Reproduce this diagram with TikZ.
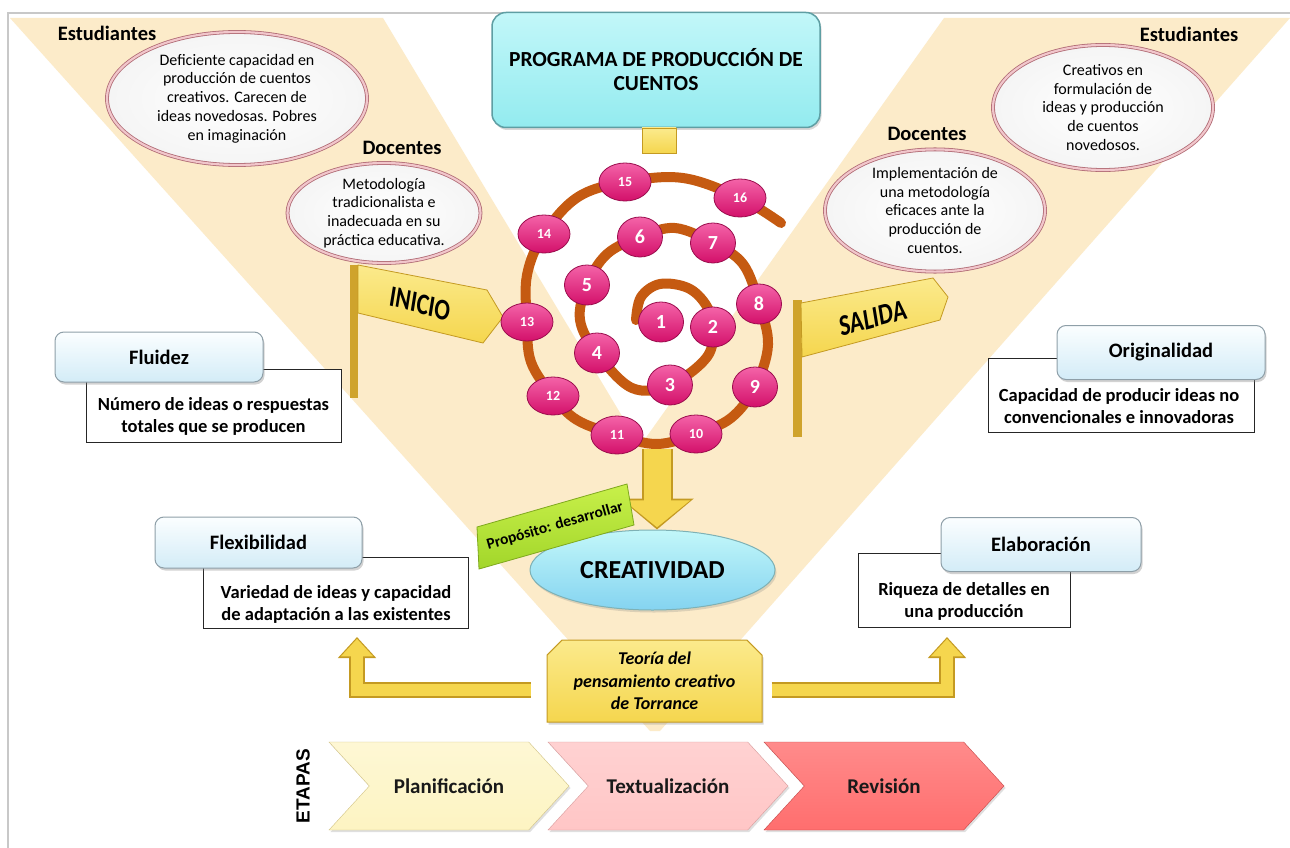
\documentclass[tikz,border=0pt]{standalone}
\usepackage{fontspec}
\setmainfont{Carlito}
\newfontfamily\arialf{Liberation Sans}
\usetikzlibrary{shapes.geometric,shapes.misc,shapes.arrows,shapes.symbols,shadows,calc,arrows.meta}
\definecolor{beige}{HTML}{FCEBC9}
\definecolor{framec}{HTML}{C8C8C8}
\definecolor{cyanA}{HTML}{C2F7F9}
\definecolor{cyanB}{HTML}{93EBEF}
\definecolor{cyanD}{HTML}{5E9EA3}
\definecolor{ovalout}{HTML}{B06A74}
\definecolor{ovalin}{HTML}{F1C6CB}
\definecolor{pinkA}{HTML}{F463A8}
\definecolor{pinkB}{HTML}{D3106A}
\definecolor{pinkD}{HTML}{9A0C4C}
\definecolor{spir}{HTML}{C55A11}
\definecolor{yel}{HTML}{F5D64E}
\definecolor{yelL}{HTML}{FBEA8C}
\definecolor{gold}{HTML}{C49A22}
\definecolor{polec}{HTML}{CFA32C}
\definecolor{lbA}{HTML}{FBFEFF}
\definecolor{lbB}{HTML}{D3ECF7}
\definecolor{lbD}{HTML}{8E9FA8}
\definecolor{greenA}{HTML}{C8F04A}
\definecolor{greenB}{HTML}{A2D62A}
\definecolor{greenD}{HTML}{7FA81E}
\definecolor{chA}{HTML}{FDF4C2}
\definecolor{chAd}{HTML}{D2C384}
\definecolor{chB}{HTML}{FFC6C6}
\definecolor{chBd}{HTML}{D89C9C}
\definecolor{chC}{HTML}{FF6E6E}
\definecolor{chCd}{HTML}{C44646}
\begin{document}
\begin{tikzpicture}[x=1pt,y=-1pt,
  oval/.style={ellipse, draw=ovalout, double=ovalin, double distance=2.2pt, line width=0.8pt,
    inner color=white, outer color=black!4, inner sep=0pt, align=center,
    font=\fontsize{16}{18.8}\selectfont},
  who/.style={font=\bfseries\fontsize{20.5}{24}\selectfont},
  num/.style={ellipse, draw=pinkD, line width=0.8pt, top color=pinkA, bottom color=pinkB,
    text=white, inner sep=0pt, font=\bfseries\fontsize{20}{20}\selectfont,
    minimum width=45pt, minimum height=40pt},
  numb/.style={num, font=\bfseries\fontsize{14}{14}\selectfont, minimum width=52pt, minimum height=38pt},
  titlebox/.style={draw=lbD, line width=1pt, rounded corners=9pt, top color=lbA, bottom color=lbB,
    font=\bfseries\fontsize{20.5}{24}\selectfont,
    drop shadow={opacity=0.35, shadow xshift=1.5pt, shadow yshift=-2.5pt}},
  descbox/.style={draw=black!85, line width=1pt, fill=white, inner sep=0pt},
  desctext/.style={align=center, inner sep=0pt, font=\bfseries\fontsize{18.5}{22}\selectfont},
  chev/.style={signal, signal to=east, signal from=west, signal pointer angle=95,
    minimum height=88pt, minimum width=240pt, inner sep=0pt,
    font=\bfseries\fontsize{21}{24}\selectfont, text=black!90,
    drop shadow={opacity=0.25, shadow xshift=1.5pt, shadow yshift=-2pt}},
  flagshape/.style={draw=gold, line width=0.8pt, top color=yelL, bottom color=yel},
  flagtext/.style={inner sep=0pt, font=\bfseries\fontsize{23}{24}\selectfont, yscale=1.3},
  spiralline/.style={draw=spir, line width=10pt, line cap=round, line join=round},
  ysq/.style={draw=gold, line width=0.8pt, top color=yelL, bottom color=yel, inner sep=0pt}
]
\useasboundingbox (0,0) rectangle (1290,848);
\fill[white] (0,0) rectangle (1290,848);
% frame
\draw[framec, line width=1.2pt] (8,848) -- (8,13) -- (1290,13);
% beige V bands
\fill[beige] (10,18) -- (383,18) -- (640,446) -- (944,18) -- (1290,18) -- (660,731) -- (650,731) -- cycle;

% top box
\node[draw=cyanD, line width=1.5pt, rounded corners=14pt, top color=cyanA, bottom color=cyanB,
  minimum width=328pt, minimum height=115pt, align=center,
  font=\bfseries\fontsize{21.5}{24}\selectfont,
  drop shadow={opacity=0.3, shadow xshift=1.5pt, shadow yshift=-2.5pt}] (prog) at (656,70)
  {PROGRAMA DE PRODUCCIÓN DE\\CUENTOS};
\node[ysq, minimum width=34pt, minimum height=25pt] (sq) at (659,140.5) {};

% labels and ovals
\node[who] (estL) at (107,33) {Estudiantes};
\node[oval, minimum width=260pt, minimum height=133pt] (ovL) at (237,98.5)
  {Deficiente capacidad en\\producción de cuentos\\creativos. Carecen de\\ideas novedosas. Pobres\\en imaginación};
\node[who] (docL) at (402,148) {Docentes};
\node[oval, minimum width=193pt, minimum height=100pt] (ovDL) at (384,213)
  {Metodología\\tradicionalista e\\inadecuada en su\\práctica educativa.};
\node[who] (estR) at (1189,34) {Estudiantes};
\node[oval, minimum width=220pt, minimum height=125pt] (ovR) at (1103,107.5)
  {Creativos en\\formulación de\\ideas y producción\\de cuentos\\novedosos.};
\node[who] (docR) at (927,134) {Docentes};
\node[oval, minimum width=220pt, minimum height=115pt] (ovDR) at (935,210.5)
  {Implementación de\\una metodología\\eficaces ante la\\producción de\\cuentos.};

% flags
\fill[polec] (350,265) rectangle (358,398);
\draw[flagshape] (358,265) -- (487,290) -- (503,317) -- (483,343) -- (358,313) -- cycle;
\node[flagtext, rotate=-12] (inicio) at (420,304) {INICIO};
\fill[polec] (793,300) rectangle (802,437);
\draw[flagshape] (801,303) -- (933,278) -- (948,297) -- (940,320) -- (802,357) -- cycle;
\node[flagtext, rotate=12] (salida) at (873,318) {SALIDA};

% spiral
\coordinate (p1) at (661,322);
\coordinate (p2) at (713,327);
\coordinate (p3) at (670,385);
\coordinate (p4) at (597,353);
\coordinate (p5) at (587,285);
\coordinate (p6) at (640,237);
\coordinate (p7) at (713,243);
\coordinate (p8) at (759,304);
\coordinate (p9) at (755,387);
\coordinate (p10) at (696,434);
\coordinate (p11) at (617,435);
\coordinate (p12) at (553,396);
\coordinate (p13) at (527,322);
\coordinate (p14) at (544,234);
\coordinate (p15) at (625,182);
\coordinate (p16) at (740,198);
\draw[spiralline] plot[smooth, tension=0.6] coordinates {(636,320) (641,297) (660,284) (688,288) (706,305) (p2) (707,357) (p3) (632,388) (p4) (580,320) (p5) (607,254) (p6) (675,228) (p7) (743,264) (p8) (768,345) (p9) (731,418) (p10) (657,444) (p11) (577,420) (p12) (531,362) (p13) (527,275) (p14) (578,197) (p15) (683,178) (p16) (781,223)};
\foreach \i in {1,...,9} {\node[num] (n\i) at (p\i) {\i};}
\foreach \i in {10,...,16} {\node[numb] (n\i) at (p\i) {\i};}

% creatividad
\node[ellipse, draw=cyanD!80, line width=1pt, top color=cyanA, bottom color=cyanB!90!blue,
  minimum width=245pt, minimum height=80pt, inner sep=0pt,
  font=\bfseries\fontsize{26}{28}\selectfont,
  drop shadow={opacity=0.25, shadow xshift=1.5pt, shadow yshift=-2.5pt}] (creat) at (652.5,570) {CREATIVIDAD};
\coordinate (spbot) at (657,449);
\draw[line width=31pt, draw=gold, -{Triangle[width=72pt,length=31pt]}] (spbot) -- (spbot |- creat.north);
\draw[line width=27pt, draw=yel, -{Triangle[width=65pt,length=27pt]}, shorten >=2.2pt] (spbot) -- (spbot |- creat.north);

% proposito tag
\draw[draw=greenD, line width=0.8pt, top color=greenA, bottom color=greenB]
  (477,527) -- (627,484) -- (634,525) -- (479,569) -- cycle;
\node[rotate=16, inner sep=0pt, font=\bfseries\fontsize{15.5}{17}\selectfont] (prop) at (555,526) {Propósito: desarrollar};

% dimension boxes
\node[descbox, minimum width=255pt, minimum height=73pt] (fluD) at (213.5,405.5) {};
\node[desctext] (fluT) at (213.5,416) {Número de ideas o respuestas\\totales que se producen};
\node[titlebox, minimum width=208pt, minimum height=50pt] (flu) at (159,357) {Fluidez};

\node[descbox, minimum width=266pt, minimum height=74pt] (oriD) at (1121,395) {};
\node[desctext] (oriT) at (1119,406) {Capacidad de producir ideas no\\convencionales e innovadoras};
\node[titlebox, minimum width=208pt, minimum height=54pt] (ori) at (1161,352.5) {Originalidad};

\node[descbox, minimum width=265pt, minimum height=71pt] (flxD) at (335.5,592.5) {};
\node[desctext] (flxT) at (336,604) {Variedad de ideas y capacidad\\de adaptación a las existentes};
\node[titlebox, minimum width=207pt, minimum height=51pt] (flx) at (258.5,542.5) {Flexibilidad};

\node[descbox, minimum width=212pt, minimum height=74pt] (elaD) at (964,590) {};
\node[desctext] (elaT) at (964,601) {Riqueza de detalles en\\una producción};
\node[titlebox, minimum width=200pt, minimum height=54pt] (ela) at (1041,544.5) {Elaboración};

% teoria box
\node[chamfered rectangle, chamfered rectangle corners={north west,north east}, chamfered rectangle xsep=12pt,
  draw=gold, line width=1pt, top color=yelL, bottom color=yel, minimum width=215pt, minimum height=82pt,
  inner sep=0pt, align=center, font=\bfseries\itshape\fontsize{18}{22.5}\selectfont,
  drop shadow={opacity=0.3, shadow xshift=1.5pt, shadow yshift=-2.5pt}] (teo) at (654.5,681)
  {Teoría del\\pensamiento creativo\\de Torrance};

% L arrows
\coordinate (hl) at (357,637);
\coordinate (hr) at (947,637);
\draw[line width=16pt, draw=gold, -{Triangle[width=37pt,length=21pt]}] ($(teo.west)+(-16,9)$) -| (hl);
\draw[line width=12pt, draw=yel, -{Triangle[width=31pt,length=17.5pt]}, shorten >=1.8pt] ($(teo.west)+(-16,9)$) -| (hl);
\draw[line width=16pt, draw=gold, -{Triangle[width=37pt,length=21pt]}] ($(teo.east)+(9,9)$) -| (hr);
\draw[line width=12pt, draw=yel, -{Triangle[width=31pt,length=17.5pt]}, shorten >=1.8pt] ($(teo.east)+(9,9)$) -| (hr);

% etapas
\node[rotate=90, font=\arialf\bfseries\fontsize{19}{20}\selectfont] (etapas) at (303,786) {ETAPAS};
\node[chev, draw=chCd, top color=chC!80, bottom color=chC] (rev) at (884,786) {Revisión};
\node[chev, draw=chBd, top color=chB!80, bottom color=chB] (tex) at (668,786) {Textualización};
\node[chev, draw=chAd, top color=chA!70, bottom color=chA] (pla) at (449,786) {Planificación};
\end{tikzpicture}
\end{document}
